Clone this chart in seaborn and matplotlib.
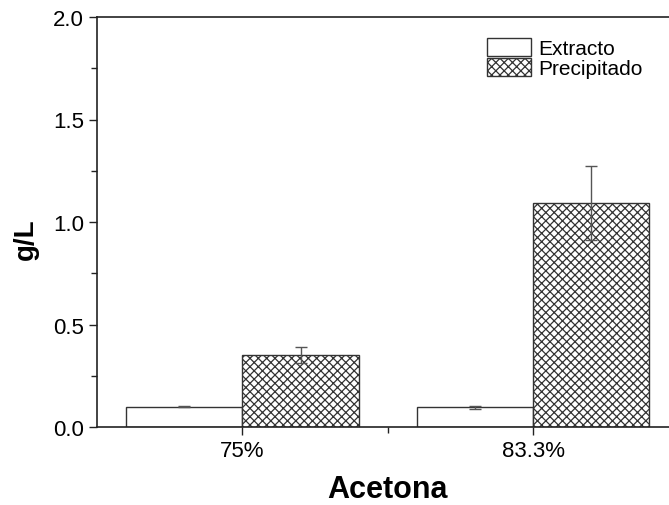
import numpy as np
import pandas as pd
import matplotlib
matplotlib.use("Agg")
import matplotlib.pyplot as plt
from matplotlib.patches import Patch
from matplotlib.ticker import MultipleLocator
import seaborn as sb

# data
acetona = ["75%", "83.3%"]
extracto = [0.10, 0.096]
extracto_err = [0.003, 0.006]
precipitado = [0.353, 1.093]
precipitado_err = [0.039, 0.18]

data = pd.DataFrame({
    "Acetona": acetona * 2,
    "g/L": extracto + precipitado,
    "tipo": ["Extracto"] * 2 + ["Precipitado"] * 2,
})

sb.set_style("ticks")
plt.rcParams['font.family'] = ['Liberation Sans', 'DejaVu Sans']
plt.rcParams['hatch.linewidth'] = 0.9
plt.rcParams['text.color'] = 'black'
plt.rcParams['axes.labelcolor'] = 'black'
plt.rcParams['xtick.color'] = 'black'
plt.rcParams['ytick.color'] = 'black'

fig = plt.figure(figsize=(6.69, 5.06), dpi=100)
ax = fig.add_axes([97 / 669, 78 / 506, 581.5 / 669, 410 / 506])

sb.barplot(data=data, x="Acetona", y="g/L", hue="tipo", errorbar=None,
           palette=["white", "white"], edgecolor="#333333", linewidth=1.0,
           width=0.8, legend=False, ax=ax)

hatches = ["", "xxxx"]
errs = [extracto_err, precipitado_err]
for cont, h, e in zip(ax.containers, hatches, errs):
    xs = []
    ys = []
    for bar in cont:
        bar.set_hatch(h)
        xs.append(bar.get_x() + bar.get_width() / 2)
        ys.append(bar.get_height())
    ax.errorbar(xs, ys, yerr=e, fmt="none", ecolor="#555555",
                elinewidth=1.0, capsize=4, capthick=1.0, zorder=5)

ax.set_xlim(-0.5, 1.5)
ax.set_ylim(0, 2.0)
ax.yaxis.set_minor_locator(MultipleLocator(0.25))
ax.set_yticks([0.0, 0.5, 1.0, 1.5, 2.0])
ax.set_yticklabels(["0.0", "0.5", "1.0", "1.5", "2.0"])
ax.set_xticks([0.5], minor=True)
ax.tick_params(axis="both", which="major", direction="out", length=6,
               width=1, labelsize=16, color="#222222")
ax.tick_params(axis="both", which="minor", direction="out", length=4,
               width=1, color="#222222")

for s in ax.spines.values():
    s.set_visible(True)
    s.set_linewidth(1.2)
    s.set_color("#222222")

ax.set_xlabel("Acetona", fontsize=22, fontweight="bold", labelpad=9)
ax.set_ylabel("g/L", fontsize=20, fontweight="bold")
ax.yaxis.set_label_coords(-0.10, 0.46)

handles = [Patch(facecolor="white", edgecolor="#333333", label="Extracto"),
           Patch(facecolor="white", edgecolor="#333333", hatch="xxxx",
                 label="Precipitado")]
ax.legend(handles=handles, loc="upper left", bbox_to_anchor=(0.657, 0.97),
          frameon=False, fontsize=15, handlelength=2.1, handleheight=0.95,
          labelspacing=0.0, handletextpad=0.35, borderaxespad=0)

fig.savefig("out.png", dpi=100)
